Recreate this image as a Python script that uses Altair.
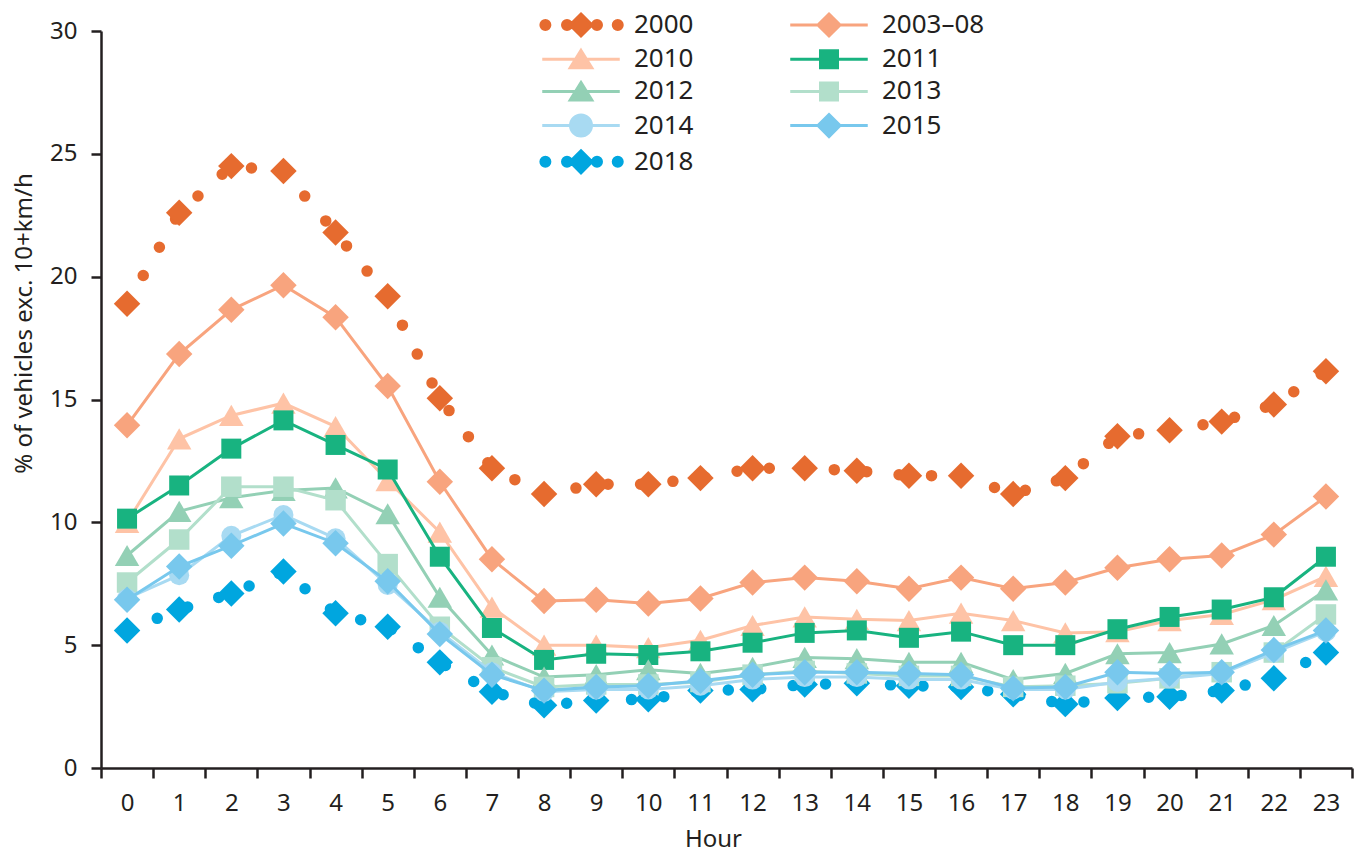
import altair as alt
import pandas as pd

TEXT = "#231F20"
FONT = "Noto Sans"

hours = list(range(24))
series_names = ["2000", "2003–08", "2010", "2011", "2012", "2013", "2014", "2015", "2018"]
series_colors = ["#E66B2F", "#F8A47E", "#FEC3A6", "#18B380", "#93D0B5", "#B2DFCB", "#A8DAF2", "#78C8ED", "#00A6DF"]

v2000 = [18.9, 22.6, 24.5, 24.3, 21.8, 19.2, 15.05, 12.2, 11.15, 11.55, 11.55, 11.8, 12.2, 12.2, 12.1, 11.9, 11.9, 11.15, 11.8, 13.5, 13.75, 14.1, 14.8, 16.15]
v2003 = [13.95, 16.85, 18.65, 19.65, 18.35, 15.55, 11.65, 8.5, 6.8, 6.85, 6.7, 6.9, 7.55, 7.75, 7.6, 7.3, 7.75, 7.3, 7.55, 8.15, 8.5, 8.65, 9.5, 11.05]
v2010 = [10.0, 13.4, 14.35, 14.85, 13.9, 11.7, 9.6, 6.55, 5.0, 5.0, 4.9, 5.2, 5.8, 6.15, 6.05, 6.0, 6.3, 6.0, 5.5, 5.55, 6.0, 6.25, 6.85, 7.8]
v2011 = [10.15, 11.5, 13.0, 14.15, 13.15, 12.15, 8.6, 5.7, 4.4, 4.65, 4.6, 4.75, 5.1, 5.5, 5.6, 5.3, 5.55, 5.0, 5.0, 5.65, 6.15, 6.45, 6.95, 8.6]
v2012 = [8.65, 10.45, 11.0, 11.3, 11.4, 10.35, 6.95, 4.6, 3.7, 3.8, 4.0, 3.85, 4.1, 4.5, 4.45, 4.3, 4.3, 3.6, 3.85, 4.65, 4.7, 5.05, 5.8, 7.25]
v2013 = [7.55, 9.3, 11.45, 11.45, 10.9, 8.3, 5.75, 4.1, 3.3, 3.4, 3.4, 3.5, 3.8, 3.95, 3.85, 3.75, 3.75, 3.3, 3.35, 3.45, 3.65, 3.9, 4.7, 6.25]
v2014 = [6.9, 7.85, 9.45, 10.3, 9.35, 7.45, 5.55, 3.9, 3.1, 3.2, 3.2, 3.35, 3.6, 3.7, 3.7, 3.6, 3.6, 3.2, 3.2, 3.5, 3.65, 3.85, 4.7, 5.55]
v2015 = [6.85, 8.2, 9.05, 9.95, 9.15, 7.6, 5.45, 3.8, 3.15, 3.3, 3.35, 3.55, 3.8, 3.9, 3.9, 3.85, 3.8, 3.25, 3.3, 3.9, 3.85, 3.9, 4.8, 5.6]
v2018 = [5.6, 6.45, 7.1, 8.0, 6.3, 5.75, 4.3, 3.1, 2.55, 2.75, 2.8, 3.15, 3.2, 3.4, 3.45, 3.35, 3.3, 3.0, 2.6, 2.85, 2.9, 3.15, 3.65, 4.7]

series_values = [v2000, v2003, v2010, v2011, v2012, v2013, v2014, v2015, v2018]

rows = []
for name, vals in zip(series_names, series_values):
    for h, v in zip(hours, vals):
        rows.append({"Hour": h, "Series": name, "Value": v})
df = pd.DataFrame(rows)

# marker styling per series
style = {
    "2000": ("diamond", 700, True),
    "2003–08": ("diamond", 700, False),
    "2010": ("triangle-up", 600, False),
    "2011": ("square", 400, False),
    "2012": ("triangle-up", 600, False),
    "2013": ("square", 420, False),
    "2014": ("circle", 400, False),
    "2015": ("diamond", 700, False),
    "2018": ("diamond", 700, True),
}
color_of = dict(zip(series_names, series_colors))
draw_order = ["2000", "2018", "2003–08", "2010", "2011", "2012", "2013", "2014", "2015"]

# legend symbol paths (unit = sqrt(size)/2 px)
K = 0.5523


def circ(cx, r):
    k = K * r
    return (f"M{cx + r},0C{cx + r},{k} {cx + k},{r} {cx},{r}"
            f"C{cx - k},{r} {cx - r},{k} {cx - r},0"
            f"C{cx - r},{-k} {cx - k},{-r} {cx},{-r}"
            f"C{cx + k},{-r} {cx + r},{-k} {cx + r},0Z")


LINE = "M-3.1,0L3.1,0"
DIAM = "M0,-0.88L0.88,0L0,0.88L-0.88,0Z"
TRI = "M0,-0.7L0.86,0.68L-0.86,0.68Z"
SQ = "M-0.68,-0.68L0.68,-0.68L0.68,0.68L-0.68,0.68Z"
DOTS = "".join(circ(c, 0.36) for c in [-2.85, -1.12, 1.28, 2.94])
legend_paths = {
    "2000": DOTS + DIAM,
    "2003–08": LINE + DIAM,
    "2010": LINE + TRI,
    "2011": LINE + SQ,
    "2012": LINE + TRI,
    "2013": LINE + SQ,
    "2014": LINE + circ(0, 0.84),
    "2015": LINE + DIAM,
    "2018": DOTS + DIAM,
}
path_range = [legend_paths[s] for s in series_names]

x_enc = alt.X(
    "Hour:Q",
    scale=alt.Scale(domain=[-0.5, 23.5], nice=False, zero=False),
    axis=alt.Axis(
        values=[i / 2 for i in range(-1, 48)],
        labelExpr="datum.value % 1 == 0 ? format(datum.value, 'd') : ''",
        tickOpacity={"condition": {"test": "datum.value % 1 != 0", "value": 1}, "value": 0},
        labelOverlap=False,
        labelFlush=False,
        labelPadding=13,
        title="Hour",
        titleX=612,
        titleY=71,
        titleBaseline="middle",
        titleAlign="center",
        grid=False,
    ),
)
y_enc = alt.Y(
    "Value:Q",
    scale=alt.Scale(domain=[0, 30], nice=False),
    axis=alt.Axis(
        values=[0, 5, 10, 15, 20, 25, 30],
        title="% of vehicles exc. 10+km/h",
        titleX=-77,
        titleY=292,
        titleBaseline="middle",
        titleAlign="center",
        labelPadding=14,
        grid=False,
    ),
)

layers = []
for s in draw_order:
    c = color_of[s]
    shape, size, dotted = style[s]
    base = alt.Chart(df).transform_filter(alt.datum.Series == s)
    if dotted:
        line = base.mark_line(strokeDash=[0, 32.5], strokeCap="round", strokeWidth=11.5, color=c)
    else:
        line = base.mark_line(strokeWidth=3, color=c)
    pts = base.mark_point(shape=shape, size=size, filled=True, opacity=1, color=c, strokeWidth=0)
    layers.append(line.encode(x=x_enc, y=y_enc))
    layers.append(pts.encode(x=x_enc, y=y_enc))

leg = alt.Legend(
    title=None,
    orient="none",
    direction="horizontal",
    legendX=466,
    legendY=-20,
    columns=2,
    columnPadding=90,
    rowPadding=2.2,
    labelOffset=39,
    labelFont=FONT,
    labelFontSize=26,
    labelColor=TEXT,
    labelLimit=400,
    symbolSize=625,
    symbolStrokeWidth=3,
    symbolOpacity=1,
)
legend_layer = (
    alt.Chart(df)
    .transform_filter("false")
    .mark_point(filled=True, size=625, strokeWidth=3, opacity=1)
    .encode(
        fill=alt.Fill("Series:N", scale=alt.Scale(domain=series_names, range=series_colors), legend=leg),
        stroke=alt.Stroke("Series:N", scale=alt.Scale(domain=series_names, range=series_colors), legend=leg),
        shape=alt.Shape("Series:N", scale=alt.Scale(domain=series_names, range=path_range), legend=leg),
    )
)
layers.append(legend_layer)

chart = (
    alt.layer(*layers)
    .properties(
        width=1251,
        height=737,
        autosize=alt.AutoSizeParams(type="none"),
        padding={"left": 93, "top": 23, "right": 7, "bottom": 86},
    )
    .configure_view(stroke=None)
    .configure_axis(
        labelFont=FONT,
        labelFontSize=24,
        labelColor=TEXT,
        titleFont=FONT,
        titleFontSize=24,
        titleFontWeight="normal",
        titleColor=TEXT,
        domainColor=TEXT,
        domainWidth=2.5,
        tickColor=TEXT,
        tickWidth=2.5,
        tickSize=10,
    )
)

chart.save("out.html", embed_options={"renderer": "svg", "actions": False})
